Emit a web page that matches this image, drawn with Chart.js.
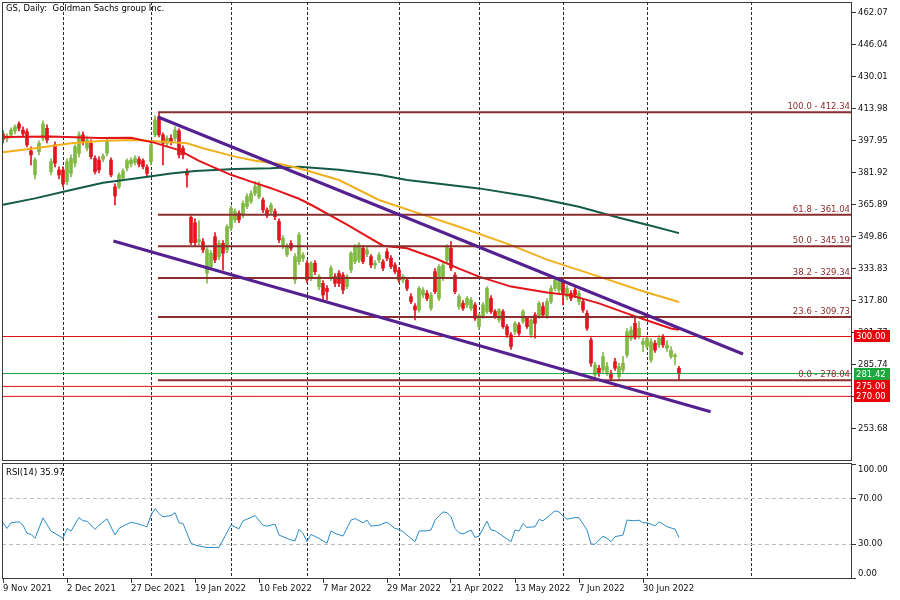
<!DOCTYPE html>
<html>
<head>
<meta charset="utf-8">
<script src="https://cdn.jsdelivr.net/npm/chart.js@4.4.1/dist/chart.umd.min.js"></script>
<style>
html, body { margin: 0; padding: 0; background: #fff; }
#wrap { position: relative; width: 900px; height: 600px; }
canvas { position: absolute; left: 0; }
#main { top: 0; }
#rsi { top: 462px; }
</style>
</head>
<body>
<div id="wrap">
<canvas id="main" width="900" height="462"></canvas>
<canvas id="rsi" width="900" height="138"></canvas>
</div>
<script>
"use strict"

// bar index 0 = 9 Nov 2021, one bar per trading day
const dates = ['9 Nov 2021', '2 Dec 2021', '27 Dec 2021', '19 Jan 2022', '10 Feb 2022', '7 Mar 2022',
    '29 Mar 2022', '21 Apr 2022', '13 May 2022', '7 Jun 2022', '30 Jun 2022'];
const dateBars = [0, 16, 32, 48, 64, 80, 96, 112, 128, 144, 160];
const monthBars = [15, 37, 57, 76, 99, 119, 140, 161, 187];

const open = [
    401.5, 399.0, 401.0, 403.0, 406.5, 403.5, 402.6, 393.0, 381.0, 392.6,
    399.3, 404.3, 382.6, 396.0, 383.4, 383.4, 377.6, 381.7, 386.8, 391.8,
    401.0, 394.3, 396.8, 389.3, 388.4, 388.8, 391.8, 388.4, 375.0, 375.0,
    379.3, 384.3, 386.4, 387.1, 388.8, 388.1, 384.8, 387.6, 401.0, 410.1,
    401.0, 396.8, 399.3, 399.3, 403.0, 394.3, 382.6, 359.7, 357.0, 347.5,
    347.5, 331.7, 335.0, 350.0, 340.0, 346.7, 343.4, 354.2, 358.4, 361.7,
    360.9, 365.1, 367.6, 371.7, 370.0, 368.4, 363.4, 362.6, 362.6, 357.6,
    345.0, 340.9, 346.7, 328.3, 337.5, 339.2, 336.7, 329.2, 336.7, 325.0,
    326.6, 324.1, 329.2, 330.0, 331.7, 330.8, 325.0, 333.3, 337.5, 338.3,
    344.2, 341.3, 340.0, 335.7, 338.3, 337.5, 342.5, 339.2, 335.8, 333.3,
    328.3, 328.3, 320.0, 315.3, 313.3, 320.8, 321.6, 314.1, 332.5, 319.1,
    329.2, 338.3, 344.2, 330.8, 315.0, 316.6, 315.8, 314.1, 315.8, 305.0,
    310.0, 312.5, 319.1, 312.5, 308.3, 312.5, 305.0, 300.8, 302.4, 305.8,
    307.5, 309.1, 300.8, 310.8, 310.0, 315.0, 310.0, 317.5, 324.1, 323.3,
    327.5, 320.0, 321.6, 323.3, 317.5, 317.5, 311.6, 298.3, 280.7, 284.1,
    283.2, 281.6, 281.6, 287.4, 279.9, 283.2, 290.7, 299.1, 306.6, 300.0,
    296.0, 295.0, 288.2, 296.6, 295.8, 299.9, 294.1, 289.9, 289.9, 284.1
];
const high = [
    403.0, 401.5, 404.5, 406.0, 407.5, 405.0, 404.0, 395.0, 389.5, 398.0,
    408.0, 406.0, 389.0, 397.5, 385.0, 385.0, 389.0, 391.0, 396.0, 402.5,
    402.5, 400.0, 398.5, 390.5, 390.0, 391.5, 399.0, 389.5, 376.5, 382.0,
    384.0, 389.0, 389.5, 390.5, 390.0, 389.0, 386.0, 397.0, 410.5, 412.3,
    402.0, 400.5, 401.0, 405.0, 404.0, 395.5, 384.0, 360.5, 359.0, 358.0,
    349.0, 344.5, 343.0, 352.0, 348.0, 348.0, 356.0, 365.5, 364.0, 363.0,
    368.0, 371.5, 373.0, 377.6, 377.6, 369.5, 364.5, 367.0, 364.0, 359.0,
    350.5, 346.5, 348.0, 341.5, 352.0, 342.0, 338.0, 337.5, 338.0, 331.0,
    328.0, 325.5, 335.5, 331.5, 333.0, 332.0, 331.0, 342.5, 346.0, 347.0,
    345.5, 344.5, 341.0, 338.0, 342.0, 338.5, 344.0, 340.5, 337.0, 334.5,
    331.0, 329.5, 321.5, 316.5, 325.0, 324.5, 323.0, 322.0, 334.0, 336.0,
    337.0, 346.0, 347.5, 332.0, 321.0, 318.0, 320.0, 319.5, 317.0, 311.5,
    317.0, 325.0, 320.5, 313.5, 314.0, 313.5, 306.0, 302.0, 307.5, 307.0,
    313.5, 310.0, 309.0, 312.0, 317.5, 317.0, 319.0, 325.5, 329.5, 329.0,
    329.0, 325.5, 323.0, 324.5, 323.0, 319.0, 313.0, 299.5, 287.0, 285.5,
    292.0, 287.0, 283.0, 289.0, 286.5, 290.0, 304.0, 305.0, 309.1, 307.5,
    299.1, 300.0, 299.0, 298.0, 300.5, 301.0, 298.0, 295.0, 291.5, 285.0
];
const low = [
    397.0, 397.5, 399.5, 401.5, 403.0, 400.0, 395.0, 386.0, 379.0, 391.0,
    398.0, 397.0, 381.0, 385.0, 379.0, 375.0, 376.0, 380.0, 385.0, 390.0,
    396.0, 393.0, 389.0, 381.5, 382.0, 387.5, 390.5, 380.0, 365.9, 374.0,
    378.0, 383.0, 385.0, 386.0, 385.0, 384.0, 380.0, 386.0, 400.0, 400.0,
    386.0, 395.5, 396.0, 398.0, 389.5, 389.0, 374.8, 346.0, 345.5, 346.0,
    342.0, 326.7, 333.5, 337.0, 338.5, 333.3, 342.0, 353.0, 357.0, 357.0,
    359.5, 364.0, 366.5, 370.5, 369.0, 362.0, 359.5, 361.5, 358.5, 347.0,
    344.0, 340.0, 343.0, 326.5, 336.0, 337.5, 327.0, 328.0, 331.0, 323.5,
    318.3, 318.3, 328.0, 325.0, 325.0, 321.5, 324.0, 332.0, 336.5, 337.0,
    336.5, 340.0, 334.5, 334.0, 337.0, 333.0, 338.0, 334.0, 331.5, 327.0,
    327.0, 323.0, 316.5, 308.3, 312.0, 319.5, 318.0, 313.0, 321.5, 318.0,
    328.0, 337.0, 333.0, 321.5, 313.5, 313.0, 314.5, 313.0, 308.0, 303.5,
    309.0, 311.5, 311.5, 309.0, 307.0, 304.0, 299.5, 293.5, 301.0, 300.5,
    306.5, 304.0, 299.5, 299.1, 309.0, 309.5, 309.0, 316.5, 323.0, 322.0,
    315.8, 318.5, 318.0, 319.5, 316.0, 312.0, 303.0, 285.0, 279.5, 280.0,
    282.0, 280.5, 278.1, 283.0, 278.5, 282.0, 289.5, 298.0, 298.5, 299.0,
    292.4, 294.0, 287.0, 292.0, 294.5, 294.5, 292.5, 289.0, 285.7, 278.0
];
const close = [
    398.8, 400.5, 403.5, 405.0, 404.3, 401.5, 396.0, 391.0, 388.5, 396.8,
    406.5, 398.4, 387.6, 386.8, 380.9, 376.4, 387.6, 389.3, 395.1, 401.0,
    397.6, 398.4, 390.1, 382.6, 383.4, 390.4, 397.6, 381.0, 370.4, 381.0,
    382.9, 388.1, 388.4, 389.3, 386.3, 385.1, 381.7, 396.0, 408.5, 401.0,
    396.8, 399.3, 397.6, 403.5, 391.0, 391.0, 380.9, 347.0, 347.0, 348.5,
    343.4, 343.4, 341.7, 338.4, 346.7, 341.7, 355.0, 364.2, 362.6, 358.4,
    366.7, 370.1, 371.7, 375.1, 375.9, 363.4, 360.9, 365.9, 360.0, 348.4,
    349.2, 345.0, 344.2, 340.0, 350.9, 340.8, 328.3, 336.7, 332.5, 330.0,
    320.8, 322.5, 334.2, 326.6, 326.6, 323.3, 330.0, 341.7, 345.0, 345.9,
    337.5, 343.4, 335.8, 336.7, 340.8, 334.2, 339.2, 335.0, 332.5, 328.3,
    330.0, 324.1, 317.5, 313.3, 324.1, 323.3, 319.1, 320.8, 322.5, 335.0,
    335.8, 345.0, 334.2, 322.5, 320.0, 314.1, 319.1, 318.3, 309.1, 310.8,
    315.8, 324.1, 312.5, 310.0, 313.3, 305.0, 300.8, 295.0, 306.6, 301.6,
    312.5, 305.0, 308.3, 306.6, 316.6, 310.8, 317.5, 324.1, 328.3, 327.5,
    321.6, 324.1, 319.1, 320.8, 321.6, 313.3, 304.1, 286.6, 285.7, 281.6,
    289.9, 284.9, 279.1, 284.1, 284.9, 286.6, 302.4, 303.3, 299.6, 304.1,
    297.5, 299.1, 297.4, 293.2, 299.1, 295.8, 295.8, 293.2, 290.7, 281.4
];

// moving averages at sample bars
const maFastBar = [0, 12, 24, 32, 38, 44, 49, 57, 62, 67, 74, 77, 86, 95, 101, 108, 114, 119, 127, 136, 142, 149, 157, 162, 167, 169];
const maFastVal = [400, 400.2, 399.5, 399.6, 397, 393.4, 388, 381, 377.6, 374.3, 369, 366, 356, 345.5, 344.2, 339.2, 334, 330, 325, 322, 320.6, 316.6, 310.8, 307.4, 304, 303.4];
const maMidBar = [0, 8, 17, 25, 33, 42, 46, 50, 58, 63, 69, 74, 84, 94, 104, 114, 127, 136, 149, 159, 169];
const maMidVal = [392.3, 394.3, 396.8, 398.1, 398.5, 397.3, 396.8, 394.3, 390.1, 388, 386.5, 384.3, 378.4, 368.4, 361.7, 355, 345.8, 338.5, 330, 323.3, 317.3];
const maSlowBar = [0, 8, 17, 25, 33, 42, 48, 58, 67, 74, 84, 94, 101, 109, 119, 132, 144, 154, 162, 169];
const maSlowVal = [366, 369.2, 373.4, 377, 379.2, 381.7, 382.9, 383.9, 384.3, 385, 383.5, 381, 378.4, 376.5, 374.2, 370, 365, 359.5, 355.5, 351.8];

// fibonacci retracement
const fibPct = ['100.0', '61.8', '50.0', '38.2', '23.6', '0.0'];
const fibLevel = [412.34, 361.04, 345.19, 329.34, 309.73, 278.04];
const fibFrom = 38.75;

// channel lines: [startBar, startPrice, endBar, endPrice]
const channelUp = [38.75, 409.97, 185, 291.23];
const channelDn = [27.6, 347.84, 176.9, 262.32];

const levelLines = [300, 275, 270];
const bidPrice = 281.42;

const priceTicks = [253.68, 269.71, 285.74, 301.77, 317.80, 333.83, 349.86, 365.89, 381.92, 397.95, 413.98, 430.01, 446.04, 462.07];

const rsiBar = [0, 1, 2, 4, 5, 6, 7, 8, 10, 12, 13, 15, 16, 17, 19, 20, 21, 23, 24, 26, 28, 29, 30, 32, 34, 36, 37, 38, 39, 40,
    42, 43, 44, 45, 47, 48, 49, 51, 54, 57, 59, 60, 61, 63, 65, 66, 68, 69, 72, 73, 74, 75, 76, 77, 79, 81, 82, 83, 85, 87,
    88, 90, 91, 92, 94, 96, 98, 99, 100, 103, 104, 106, 107, 108, 110, 111, 112, 113, 114, 115, 117, 118, 119, 121, 122, 123, 127, 128, 129, 130,
    131, 133, 134, 135, 138, 139, 140, 141, 143, 144, 146, 147, 148, 150, 151, 152, 153, 155, 156, 158, 159, 160, 161, 163, 164, 165, 166, 168, 169];
const rsiVal = [48.9, 43.9, 48.9, 49.7, 46.8, 39.6, 38.7, 35.2, 53.2, 41.6, 39.6, 35.2, 43.9, 41.6, 53.5, 50.6, 50.3, 43.1, 46.8, 52.3, 38.1, 43.9, 45.9, 49.4, 47.7, 45.4, 55.5, 61.3, 57, 54.1,
    55.2, 57.8, 48.9, 48.3, 30.9, 29.4, 28.6, 27.1, 27.4, 46.8, 43.6, 50.6, 52, 55.2, 46.8, 45.9, 47.7, 38.1, 33.8, 32.9, 43.1, 39.6, 32.3, 38.7, 35.2, 30.9, 41.9, 39.6, 37.2, 51.2,
    52.6, 48.9, 51.2, 45.9, 46.8, 49.4, 43.9, 43.1, 41, 32.3, 41.6, 41.9, 42.5, 51.2, 58.4, 57.8, 54.1, 43.9, 40.2, 39, 42.5, 36.1, 37.2, 50.3, 42.5, 41.9, 32.3, 42.5, 41.6, 48.3,
    44.8, 45.4, 51.8, 50.6, 59.3, 58.4, 54.9, 52, 53.5, 53.2, 42.5, 30.3, 30, 37.2, 35.2, 32.3, 36.7, 38.1, 51.2, 50.6, 51.2, 48.9, 48.9, 46.2, 49.7, 47.7, 45.4, 43.3, 35.97];
const rsiTicks = [0, 30, 70, 100];
const rsiLevels = [30, 70];

const xMin = -0.25, xMax = 212.25;
const FONT = {family: 'DejaVu Sans', size: 8.5};
const upColor = '#7fba42', downColor = '#e4141b';
const fibColor = '#8b2e2e';
const frameColor = '#3a3a3a';

const candleColor = close.map((c, i) => c >= open[i] ? upColor : downColor);
const pts = (xs, ys) => xs.map((x, k) => ({x: x, y: ys[k]}));
const hline = (y, from) => [{x: from, y: y}, {x: xMax, y: y}];
const lineSet = (data, color, width, order) => ({
    type: 'line', data: data, borderColor: color, borderWidth: width,
    pointRadius: 0, fill: false, order: order
});

function dropPadding(s) {
    s.paddingLeft = 0; s.paddingRight = 0; s.paddingTop = 0; s.paddingBottom = 0;
}

const mainDatasets = [
    {
        type: 'bar', data: high.map((h, i) => ({x: i, y: [low[i], h]})),
        backgroundColor: candleColor, barThickness: 1, grouped: false, order: 21
    },
    {
        type: 'bar', data: open.map((o, i) => ({x: i, y: [o, close[i]]})),
        backgroundColor: candleColor, barThickness: 3, minBarLength: 1, grouped: false, order: 20
    },
    lineSet(pts(maSlowBar, maSlowVal), '#145a48', 2, 12),
    lineSet(pts(maMidBar, maMidVal), '#f2b01e', 2, 11),
    lineSet(pts(maFastBar, maFastVal), '#e4141b', 2, 10)
];
levelLines.forEach(v => mainDatasets.push(lineSet(hline(v, xMin), '#e01010', 1, 8)));
mainDatasets.push(lineSet(hline(bidPrice, xMin), '#22a046', 1, 7));
fibLevel.forEach(v => mainDatasets.push(lineSet(hline(v, fibFrom), fibColor, 2, 6)));
mainDatasets.push(lineSet([{x: channelUp[0], y: channelUp[1]}, {x: channelUp[2], y: channelUp[3]}], '#55208f', 3, 2));
mainDatasets.push(lineSet([{x: channelDn[0], y: channelDn[1]}, {x: channelDn[2], y: channelDn[3]}], '#55208f', 3, 2));

function priceTag(ctx, area, y, text, color) {
    ctx.fillStyle = color;
    ctx.fillRect(area.right + 2, Math.round(y) - 6, 36, 12);
    ctx.fillStyle = '#ffffff';
    ctx.textAlign = 'left';
    ctx.textBaseline = 'middle';
    ctx.fillText(text, area.right + 4, Math.round(y) + 0.5);
}

const mainDecor = {
    id: 'mainDecor',
    afterDraw(chart) {
        const {ctx, chartArea: a} = chart;
        const yS = chart.scales.y;
        ctx.save();
        ctx.strokeStyle = frameColor;
        ctx.lineWidth = 1;
        ctx.strokeRect(a.left + 0.5, a.top + 0.5, a.right - a.left - 1, a.bottom - a.top - 1);
        ctx.font = FONT.size + 'px "' + FONT.family + '"';
        ctx.fillStyle = '#000';
        ctx.textAlign = 'left';
        ctx.textBaseline = 'top';
        ctx.fillText('GS, Daily:  Goldman Sachs group Inc.', a.left + 4, a.top + 3);
        // fib labels
        ctx.fillStyle = fibColor;
        ctx.textAlign = 'right';
        ctx.textBaseline = 'alphabetic';
        fibLevel.forEach((v, k) => {
            ctx.fillText(fibPct[k] + ' - ' + v.toFixed(2), a.right - 2, yS.getPixelForValue(v) - 3);
        });
        levelLines.forEach(v => priceTag(ctx, a, yS.getPixelForValue(v), v.toFixed(2), '#e8000b'));
        priceTag(ctx, a, yS.getPixelForValue(bidPrice), bidPrice.toFixed(2), '#1fa83e');
        ctx.restore();
    }
};

new Chart(document.getElementById('main'), {
    type: 'bar',
    data: {datasets: mainDatasets},
    options: {
        responsive: false,
        animation: false,
        events: [],
        layout: {padding: {left: 2, top: 2, right: 0, bottom: 1}},
        plugins: {legend: {display: false}, tooltip: {enabled: false}},
        scales: {
            x: {
                type: 'linear', min: xMin, max: xMax, offset: false,
                afterBuildTicks: s => { s.ticks = monthBars.map(v => ({value: v})); },
                afterFit: s => { s.height = 0; dropPadding(s); },
                ticks: {display: false},
                grid: {color: '#2a2a2a', drawTicks: false, offset: false},
                border: {display: false, dash: [3, 2]}
            },
            y: {
                type: 'linear', position: 'right', min: 237.62, max: 467.58,
                afterBuildTicks: s => { s.ticks = priceTicks.map(v => ({value: v})); },
                afterFit: s => { s.width = 48; dropPadding(s); },
                ticks: {color: '#111', font: FONT, padding: 2, callback: v => v.toFixed(2)},
                grid: {drawOnChartArea: false, tickLength: 4, tickColor: frameColor},
                border: {display: false}
            }
        }
    },
    plugins: [mainDecor]
});

const rsiDecor = {
    id: 'rsiDecor',
    afterDraw(chart) {
        const {ctx, chartArea: a} = chart;
        const yS = chart.scales.y;
        ctx.save();
        ctx.strokeStyle = frameColor;
        ctx.lineWidth = 1;
        ctx.strokeRect(a.left + 0.5, a.top + 0.5, a.right - a.left - 1, a.bottom - a.top - 1);
        ctx.font = FONT.size + 'px "' + FONT.family + '"';
        ctx.fillStyle = '#000';
        ctx.textAlign = 'left';
        ctx.textBaseline = 'top';
        ctx.fillText('RSI(14) ' + rsiVal[rsiVal.length - 1].toFixed(2), a.left + 4, a.top + 6);
        // end labels sit inside the panel, next to their ticks
        ctx.fillStyle = '#111';
        ctx.fillText(rsiTicks[rsiTicks.length - 1].toFixed(2), a.right + 6, yS.getPixelForValue(rsiTicks[rsiTicks.length - 1]) + 1);
        ctx.textBaseline = 'bottom';
        ctx.fillText(rsiTicks[0].toFixed(2), a.right + 6, yS.getPixelForValue(rsiTicks[0]) - 0.5);
        ctx.restore();
    }
};

new Chart(document.getElementById('rsi'), {
    type: 'line',
    data: {
        datasets: [{
            data: pts(rsiBar, rsiVal), xAxisID: 'x', borderColor: '#2b8bc9', borderWidth: 1,
            pointRadius: 0, fill: false, tension: 0
        }]
    },
    options: {
        responsive: false,
        animation: false,
        events: [],
        layout: {padding: {left: 2, top: 1, right: 0, bottom: 0}},
        plugins: {legend: {display: false}, tooltip: {enabled: false}},
        scales: {
            xg: {
                type: 'linear', position: 'top', min: xMin, max: xMax, offset: false,
                afterBuildTicks: s => { s.ticks = monthBars.map(v => ({value: v})); },
                afterFit: s => { s.height = 0; dropPadding(s); },
                ticks: {display: false},
                grid: {color: '#2a2a2a', drawTicks: false},
                border: {display: false, dash: [3, 2]}
            },
            x: {
                type: 'linear', position: 'bottom', min: xMin, max: xMax, offset: false,
                afterBuildTicks: s => { s.ticks = dateBars.map(v => ({value: v})); },
                afterFit: s => { s.height = 21; dropPadding(s); },
                ticks: {
                    color: '#111', font: FONT, padding: 1, align: 'start', autoSkip: false,
                    maxRotation: 0, callback: v => dates[dateBars.indexOf(v)]
                },
                grid: {drawOnChartArea: false, tickLength: 4, tickColor: frameColor},
                border: {display: false}
            },
            y: {
                type: 'linear', position: 'right', min: -0.44, max: 101.3,
                afterBuildTicks: s => { s.ticks = rsiTicks.map(v => ({value: v})); },
                afterFit: s => { s.width = 48; dropPadding(s); },
                ticks: {
                    color: '#111', font: FONT, padding: 2,
                    callback: v => rsiLevels.includes(v) ? v.toFixed(2) : ''
                },
                grid: {
                    color: c => (c.tick && rsiLevels.includes(c.tick.value)) ? '#bdbdbd' : 'rgba(0,0,0,0)',
                    tickLength: 4, tickColor: frameColor
                },
                border: {display: false, dash: [4, 3]}
            }
        }
    },
    plugins: [rsiDecor]
});
</script>
</body>
</html>
